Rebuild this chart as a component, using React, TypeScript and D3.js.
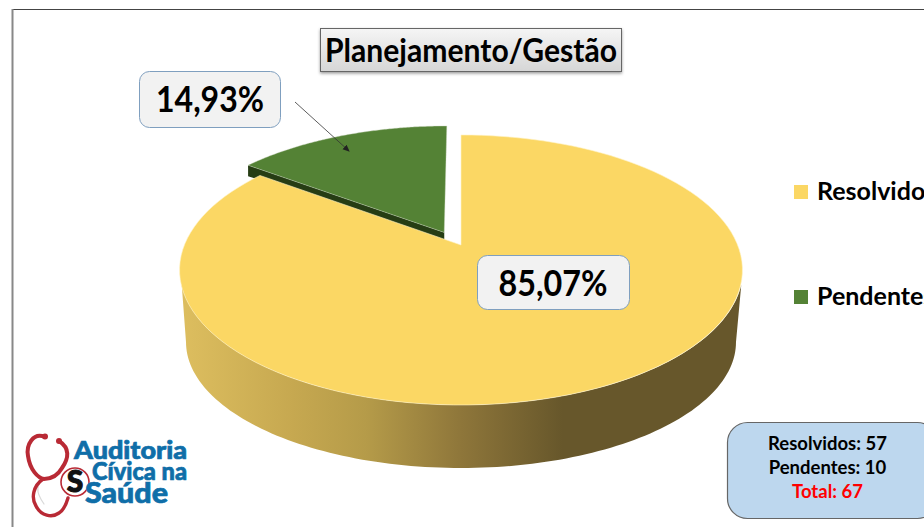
import React from "react";
import * as d3 from "d3";

const categories = ["Resolvidos", "Pendentes"];
const values = [57, 10];
const totalLabel = "Total";
const chartTitle = "Planejamento/Gestão";
const colors = ["#FBD764", "#548235"];
const logoLines = ["Auditoria", "Cívica na", "Saúde"];

const W = 924, H = 527;
const FONT = "Lato, 'Open Sans', sans-serif";

// Perspective projection of the unit pie disc on the screen
const CX = 461, CY = 245, K = 0.185, A = 130.4, B = 276.6;
const project = (u: number, v: number): [number, number] => {
  const d = 1 + K * v;
  return [CX + (B * u) / d, CY - (A * v) / d];
};

const pieGen = d3.pie<number>().sort(null).value((d) => d);
const arcs = pieGen(values);

const rimPoints = (a0: number, a1: number, du = 0, dv = 0) =>
  d3.range(0, 121).map((i) => {
    const t = a0 + ((a1 - a0) * i) / 120;
    return project(Math.sin(t) + du, Math.cos(t) + dv);
  });

const line = d3.line<[number, number]>();

const sliceYellow = () => {
  const a = arcs[0];
  const p = rimPoints(a.startAngle, a.endAngle);
  return line([project(0, 0), ...p]) + "Z";
};

// explosion of the green slice along its bisector
const EXPL = 0.11;
const g = arcs[1];
const mid = (g.startAngle + g.endAngle) / 2;
const DU = EXPL * Math.sin(mid) - 0.012, DV = EXPL * Math.cos(mid);
const greenRim = rimPoints(g.startAngle, g.endAngle, DU, DV);
const greenApex = project(DU, DV);
const sliceGreen = line([greenApex, ...greenRim]) + "Z";
const DEPTH_G = 9;
const greenWall = (() => {
  const tip = greenRim[0];
  return (
    line([
      tip,
      greenApex,
      [greenApex[0], greenApex[1] + DEPTH_G],
      [tip[0], tip[1] + DEPTH_G + 2],
    ]) + "Z"
  );
})();

// side wall of the yellow slice
const topX = (t: number) => 461.5 + 281.5 * Math.cos(t);
const topY = (t: number) => 270 + 135 * Math.sin(t);
const botX = (t: number) => 461 + 275 * Math.cos(t);
const botY = (t: number) => 342 + 126 * Math.sin(t);
const wallPath = (() => {
  const t0 = Math.asin(15 / 135);
  const ts = d3.range(0, 121).map((i) => t0 + ((Math.PI - 2 * t0) * i) / 120);
  const upper = ts.map((t) => [topX(t), topY(t)] as [number, number]);
  const lower = d3.range(0, 121).map((i) => {
    const t = Math.PI - (Math.PI * i) / 120;
    return [botX(t), botY(t)] as [number, number];
  });
  return line([...upper, ...lower]) + "Z";
})();

const total = d3.sum(values);
const pct = (v: number) => d3.format(".2f")((v / total) * 100).replace(".", ",") + "%";

export default function App() {
  return (
    <svg
      width={W}
      height={H}
      viewBox={`0 0 ${W} ${H}`}
      style={{ position: "fixed", left: 0, top: 0, background: "#fff" }}
      fontFamily={FONT}
    >
      <defs>
        <linearGradient id="wall" gradientUnits="userSpaceOnUse" x1={181} x2={742} y1={0} y2={0}>
          <stop offset="0" stopColor="#DDBE5F" />
          <stop offset="0.2" stopColor="#C6A850" />
          <stop offset="0.33" stopColor="#B59B49" />
          <stop offset="0.5" stopColor="#8E763A" />
          <stop offset="0.68" stopColor="#67572B" />
          <stop offset="1" stopColor="#67572B" />
        </linearGradient>
        <linearGradient id="titleFill" x1="0" x2="0" y1="0" y2="1">
          <stop offset="0" stopColor="#F5F5F5" />
          <stop offset="1" stopColor="#D6D6D6" />
        </linearGradient>
        <filter id="shadow" x="-5%" y="-15%" width="110%" height="135%">
          <feDropShadow dx="0" dy="1.5" stdDeviation="1.5" floodColor="#000" floodOpacity="0.4" />
        </filter>
        <marker id="arrow" markerWidth="8" markerHeight="8" refX="6" refY="3" orient="auto" markerUnits="userSpaceOnUse">
          <path d="M0,0 L7,3 L0,6 Z" fill="#222" />
        </marker>
      </defs>

      {/* frame */}
      <line x1={12} x2={924} y1={9.5} y2={9.5} stroke="#444" strokeWidth={1} />
      <line x1={12.5} x2={12.5} y1={9} y2={527} stroke="#888" strokeWidth={2} />

      {/* pie */}
      <path d={greenWall} fill="#263D14" />
      <path d={sliceGreen} fill={colors[1]} stroke="#cfd8c4" strokeWidth={0.4} />
      <path d={wallPath} fill="url(#wall)" />
      <path d={sliceYellow()} fill={colors[0]} stroke="#fff3c8" strokeWidth={0.6} />

      {/* title */}
      <rect x={320.5} y={28.5} width={301} height={43} fill="url(#titleFill)" stroke="#666" strokeWidth={1} filter="url(#shadow)" />
      <text x={471} y={61.5} textAnchor="middle" fontSize={33} fontWeight={700} fill="#000" textLength={292} lengthAdjust="spacingAndGlyphs">
        {chartTitle}
      </text>

      {/* data labels */}
      <rect x={139.5} y={71.5} width={141} height={56} rx={10} fill="#F2F2F2" stroke="#7F9FBF" strokeWidth={1} />
      <text x={210} y={112} textAnchor="middle" fontSize={36} fontWeight={700} fill="#000" textLength={108} lengthAdjust="spacingAndGlyphs">
        {pct(values[1])}
      </text>
      <line x1={295} y1={102} x2={349} y2={151} stroke="#333" strokeWidth={0.8} markerEnd="url(#arrow)" />

      <rect x={477.5} y={255.5} width={152} height={54} rx={10} fill="#F2F2F2" stroke="#7F9FBF" strokeWidth={1} />
      <text x={553} y={296} textAnchor="middle" fontSize={36} fontWeight={700} fill="#000" textLength={109} lengthAdjust="spacingAndGlyphs">
        {pct(values[0])}
      </text>

      {/* legend */}
      {categories.map((c, i) => (
        <g key={c}>
          <rect x={794} y={185 + i * 105} width={14} height={14} fill={colors[i]} />
          <text x={817} y={200 + i * 105} fontSize={25} fontWeight={700} fill="#000">
            {c}
          </text>
        </g>
      ))}

      {/* info box */}
      <rect x={727.5} y={422.5} width={210} height={96} rx={20} fill="#BDD7EE" stroke="#666" strokeWidth={1.2} />
      {categories.map((c, i) => (
        <text key={c} x={827.5} y={450 + i * 24} textAnchor="middle" fontSize={18.5} fontWeight={700} fill="#000">
          {`${c}: ${values[i]}`}
        </text>
      ))}
      <text x={827.5} y={498} textAnchor="middle" fontSize={18.5} fontWeight={700} fill="#FF0000">
        {`${totalLabel}: ${total}`}
      </text>

      {/* logo */}
      <g fill="none" strokeLinecap="round">
        <path d="M44 504 C 34 490, 38 484, 43 479" stroke="#d9d9d9" strokeWidth={1.2} />
        <path d="M45 437 C 33 432, 26 445, 28 456 C 30 470, 38 478, 44 479 C 52 479, 58 475, 62 468 C 69 458, 70 448, 59 441" stroke="#B92A35" strokeWidth={4} />
        <path d="M43 479 C 33 486, 31 498, 36 506 C 41 516, 52 518, 59 513 C 64 510, 66 505, 68 498" stroke="#B92A35" strokeWidth={3.4} />
        <circle cx={75} cy={482} r={14} fill="#fff" stroke="#B92A35" strokeWidth={1.6} />
      </g>
      <circle cx={45} cy={436.5} r={3} fill="#B92A35" />
      <circle cx={59} cy={441} r={3} fill="#B92A35" />
      <text x={75} y={492} textAnchor="middle" fontSize={30} fontWeight={900} fill="#111" stroke="#111" strokeWidth={1}>S</text>
      <g fill="#0F6EA8" stroke="#0F6EA8" strokeWidth={0.7} fontWeight={900}>
        <text x={74} y={459} fontSize={24} textLength={113} lengthAdjust="spacingAndGlyphs">{logoLines[0]}</text>
        <text x={92} y={480} fontSize={24} textLength={95} lengthAdjust="spacingAndGlyphs">{logoLines[1]}</text>
        <text x={85} y={503} fontSize={28} textLength={83} lengthAdjust="spacingAndGlyphs">{logoLines[2]}</text>
      </g>
    </svg>
  );
}
